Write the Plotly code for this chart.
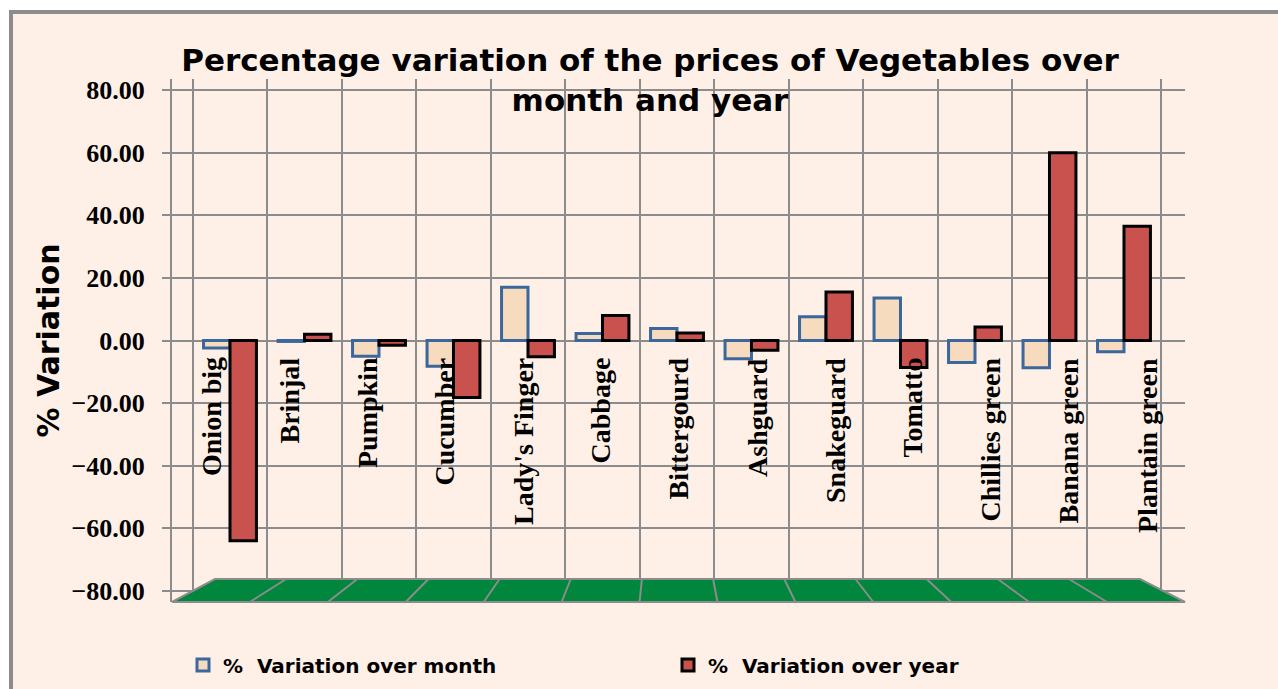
import plotly.graph_objects as go

# ---- data ----
categories = ["Onion big", "Brinjal", "Pumpkin", "Cucumber", "Lady's Finger", "Cabbage",
              "Bittergourd", "Ashguard", "Snakeguard", "Tomatto", "Chillies green",
              "Banana green", "Plantain green"]
month_var = [-2.4, -0.3, -5.0, -8.2, 17.0, 2.2, 3.8, -5.8, 7.6, 13.6, -7.0, -8.7, -3.6]
year_var = [-64.0, 2.0, -1.5, -18.2, -5.2, 8.0, 2.4, -3.1, 15.5, -8.6, 4.3, 60.0, 36.5]
y_ticks = [-80, -60, -40, -20, 0, 20, 40, 60, 80]
series_names = ["%\u00a0 Variation over month", "%\u00a0 Variation over year"]

W, H = 1278, 689
L, R, T, B = 172, 1185, 79, 602  # plot area in px
PEACH = "#FEF0E6"
GRID = "#8C8C8C"


def xp(px):
    return (px - L) / (R - L)


def yp(py):
    return (B - py) / (B - T)


fig = go.Figure()
fig.add_trace(go.Bar(
    x=categories, y=month_var, name=series_names[0],
    marker=dict(color="#F6DBBE", line=dict(color="#3B679C", width=3)),
))
fig.add_trace(go.Bar(
    x=categories, y=year_var, name=series_names[1],
    marker=dict(color="#C9524F", line=dict(color="#000000", width=3)),
))

shapes = []
# chart border / background
shapes.append(dict(type="rect", xref="paper", yref="paper", layer="below",
                   x0=xp(11), x1=xp(1300), y0=yp(700), y1=yp(12),
                   fillcolor=PEACH, line=dict(color=GRID, width=4)))
# green floor
floor = (f"M {xp(172)},{yp(602)} L {xp(1185)},{yp(602)} "
         f"L {xp(1140)},{yp(579)} L {xp(215)},{yp(579)} Z")
shapes.append(dict(type="path", xref="paper", yref="paper", layer="above", path=floor,
                   fillcolor="#00863D", line=dict(color=GRID, width=2)))
n = len(categories)
for k in range(1, n):
    bx = 215 + (1140 - 215) * k / n
    fx = 172 + (1185 - 172) * k / n
    shapes.append(dict(type="line", xref="paper", yref="paper", layer="above",
                       x0=xp(bx), y0=yp(579), x1=xp(fx), y1=yp(602),
                       line=dict(color=GRID, width=2)))

annotations = []
for i, c in enumerate(categories):
    annotations.append(dict(
        x=c, y=0, xref="x", yref="y", text=c, showarrow=False,
        textangle=-90, xanchor="center", yanchor="top", yshift=-15,
        xshift=-19 + 3.5 * i,
        font=dict(family="Liberation Serif", size=28, color="#000000", weight="bold"),
    ))

fig.update_layout(
    width=W, height=H,
    paper_bgcolor="#FFFFFF", plot_bgcolor="rgba(0,0,0,0)",
    margin=dict(l=L, r=W - R, t=T, b=H - B, pad=0, autoexpand=False),
    barmode="group", bargap=0.29, bargroupgap=0.0,
    title=dict(
        text="<b>Percentage variation of the prices of Vegetables over<br>month and year</b>",
        font=dict(family="DejaVu Sans", size=31, color="#000000"),
        x=650 / W, xref="container", xanchor="center",
        y=1 - 71 / H, yref="container", yanchor="middle",
    ),
    xaxis=dict(
        range=[-0.7785, 12.819], showticklabels=False, ticks="",
        showgrid=True, gridcolor=GRID, gridwidth=2, tickson="boundaries",
        zeroline=False, showline=False,
    ),
    yaxis=dict(
        range=[-83.55, 83.55], tickvals=y_ticks, tickformat=".2f",
        tickfont=dict(family="Liberation Serif", size=26, color="#000000", weight="bold"),
        ticks="outside", ticklen=8, tickwidth=2, tickcolor=GRID,
        ticklabelstandoff=12,
        showline=True, linecolor=GRID, linewidth=2,
        showgrid=True, gridcolor=GRID, gridwidth=2,
        zeroline=True, zerolinecolor=GRID, zerolinewidth=2,
        title=dict(text="<b>% Variation</b>", standoff=3,
                   font=dict(family="DejaVu Sans", size=30, color="#000000")),
    ),
    legend=dict(
        orientation="h", x=xp(183), xanchor="left", y=yp(665), yanchor="middle",
        font=dict(family="DejaVu Sans", size=20, color="#000000", weight="bold"),
        bgcolor="rgba(0,0,0,0)", entrywidth=440, itemwidth=30,
    ),
    shapes=shapes, annotations=annotations,
    font=dict(family="DejaVu Sans"),
)

post = (
    "document.documentElement.style.margin='0';"
    "document.documentElement.style.overflow='hidden';"
    "document.body.style.margin='0';"
    "document.body.style.overflow='hidden';"
)

fig.write_html("out.html", config={"displayModeBar": False}, post_script=post)
